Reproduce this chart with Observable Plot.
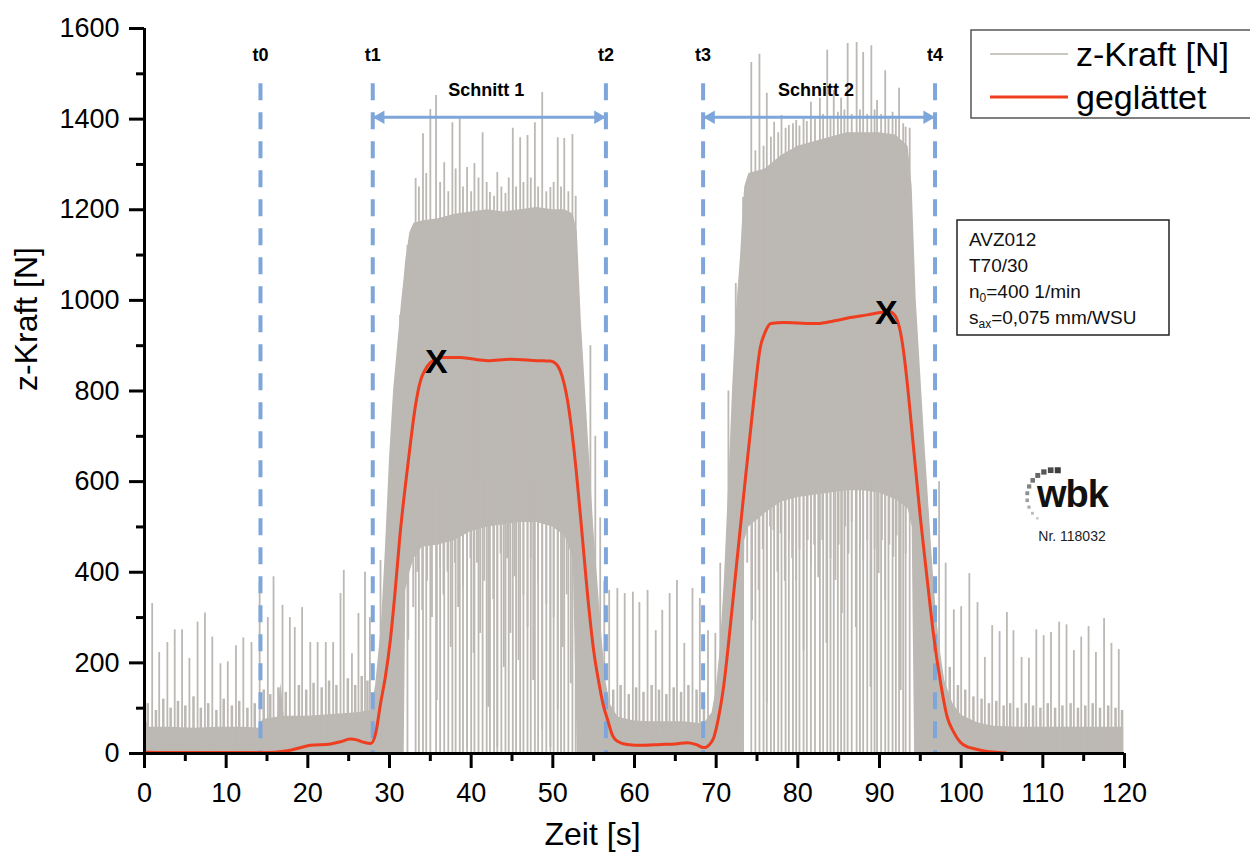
<!DOCTYPE html>
<html>
<head>
<meta charset="utf-8">
<script src="https://cdn.jsdelivr.net/npm/d3@7"></script>
<script src="https://cdn.jsdelivr.net/npm/@observablehq/plot@0.6"></script>
<style>
  body { margin: 0; background: #fff; }
  #wrap { position: relative; width: 1250px; height: 862px; overflow: hidden; background: #fff;
          font-family: "Liberation Sans", Arial, sans-serif; }
  #overlay { position: absolute; left: 0; top: 0; pointer-events: none; }
</style>
</head>
<body>
<div id="wrap"><div id="chart"></div></div>
<script>
// ---------- data ----------
// axis ticks
const xTicks = [0, 10, 20, 30, 40, 50, 60, 70, 80, 90, 100, 110, 120];
const xMinor = [5, 15, 25, 35, 45, 55, 65, 75, 85, 95, 105, 115];
const yTicks = [0, 200, 400, 600, 800, 1000, 1200, 1400, 1600];
const yMinor = [100, 300, 500, 700, 900, 1100, 1300, 1500];

// dense part of the raw z-force signal (envelope): time [s], upper and lower edge [N]
const bandT  = [0, 0.3, 0.6, 3, 6, 9, 12, 14, 14.5, 16.3, 16.7, 17.1, 20, 23, 26, 27.8, 28.3, 29, 29.5, 30, 30.5, 31, 31.5, 31.8, 32, 32.5, 33, 34, 36, 38, 40, 42, 44, 46, 48, 50, 51.5, 52.5, 53, 53.5, 54, 54.5, 55, 55.5, 56, 56.5, 57, 58, 60, 62, 64, 66, 68.5, 69.5, 70, 70.5, 71, 71.5, 72, 72.5, 73, 73.3, 73.5, 74, 76, 78, 80, 82, 84, 86, 88, 90, 92, 93.5, 94, 94.3, 94.5, 95, 95.5, 96, 96.5, 97, 97.5, 98, 99, 100, 102, 104, 107, 110, 115, 119.9];
const bandHi = [80, 70, 58, 58, 56, 58, 58, 56, 75, 80, 155, 82, 82, 86, 90, 95, 150, 280, 450, 650, 800, 900, 1000, 1050, 1090, 1150, 1170, 1175, 1180, 1190, 1195, 1200, 1195, 1200, 1205, 1200, 1200, 1190, 1150, 950, 800, 650, 500, 380, 260, 160, 110, 80, 72, 70, 70, 70, 65, 90, 140, 230, 380, 580, 800, 980, 1100, 1200, 1250, 1280, 1290, 1320, 1340, 1350, 1360, 1370, 1370, 1370, 1365, 1340, 1250, 1100, 1000, 850, 700, 560, 420, 300, 220, 160, 110, 85, 68, 60, 58, 58, 58, 58];
const bandLo = [0, 0, 0, 0, 0, 0, 0, 0, 0, 0, 0, 0, 0, 0, 0, 0, 0, 0, 0, 0, 0, 0, 0, 0, 360, 400, 430, 455, 460, 470, 490, 500, 505, 510, 510, 500, 480, 430, 0, 0, 0, 0, 0, 0, 0, 0, 0, 0, 0, 0, 0, 0, 0, 0, 0, 0, 0, 0, 0, 0, 0, 0, 470, 500, 530, 555, 565, 570, 575, 580, 580, 575, 560, 540, 500, 0, 0, 0, 0, 0, 0, 0, 0, 0, 0, 0, 0, 0, 0, 0, 0, 0];

// single upward peaks of the raw signal: time [s], peak value [N]
const spikeT = [0.94, 1.8, 2.8, 3.7, 4.6, 5.5, 6.5, 7.4, 8.3, 9.3, 10.2, 11.2, 12.1, 13.1, 14.1, 15.1, 15.8, 16.9, 17.8, 18.4, 19.3, 20.3, 21.2, 22.2, 23.1, 24, 24.4, 25.4, 26.2, 27, 27.6,
  28.9, 31.3, 32.2, 33.2, 33.6, 34.1, 34.5, 35, 35.7, 36.2, 36.7, 37.2, 37.7, 38.1, 38.6, 39, 39.5, 40, 40.4, 40.9, 41.4, 41.9, 42.3, 42.8, 43.2, 43.7, 44.2, 44.6, 45.1, 45.5, 46, 46.4, 46.9, 47.3, 47.8, 48.2, 48.7, 49.2, 49.7, 50.1, 50.6, 51, 51.4, 51.9, 52.4, 52.8,
  54.6, 55.2, 55.8, 56.3, 56.9, 57.9, 58.8, 59.8, 60.6, 61.6, 62.6, 63.4, 64.3, 65.2, 66.1, 67.1, 68, 69, 69.9, 70.5, 71.5, 72.4, 73.3,
  74.3, 74.8, 75.3, 75.8, 76.2, 76.7, 77.1, 77.6, 78, 78.5, 78.9, 79.4, 79.8, 80.2, 80.7, 81.1, 81.6, 82.1, 82.7, 83.1, 83.6, 84, 84.4, 84.9, 85.3, 85.7, 86.1, 86.6, 87.2, 87.6, 88, 88.5, 89, 89.4, 89.7, 90.2, 90.7, 91.1, 91.6, 92, 92.4, 92.9, 93.2, 93.7,
  97.3, 98.1, 99.1, 100, 101, 102, 102.9, 103.8, 104.7, 105.6, 106.4, 107.4, 108.3, 109.2, 110.1, 111, 112, 112.9, 113.8, 114.7, 115.6, 116.5, 117.5, 118.4, 119.3];
const spikeV = [331, 223, 245, 273, 273, 210, 290, 310, 257, 198, 202, 238, 255, 245, 377, 300, 390, 327, 300, 278, 322, 245, 245, 245, 245, 353, 404, 220, 309, 400, 300,
  426, 967, 1121, 1269, 1250, 1368, 1280, 1421, 1452, 1260, 1304, 1240, 1392, 1290, 1401, 1250, 1293, 1240, 1302, 1270, 1370, 1260, 1238, 1230, 1282, 1250, 1236, 1270, 1380, 1250, 1359, 1260, 1364, 1270, 1392, 1250, 1459, 1240, 1249, 1260, 1359, 1250, 1357, 1240, 1366, 1230,
  900, 700, 520, 380, 360, 364, 353, 356, 333, 360, 271, 316, 353, 382, 243, 364, 342, 271, 265, 420, 800, 1037, 1227,
  1525, 1330, 1543, 1340, 1457, 1360, 1393, 1370, 1408, 1380, 1386, 1390, 1397, 1385, 1401, 1395, 1437, 1400, 1446, 1410, 1552, 1400, 1463, 1415, 1446, 1420, 1567, 1410, 1569, 1420, 1547, 1410, 1562, 1420, 1441, 1410, 1507, 1400, 1415, 1400, 1468, 1390, 1382, 1380,
  600, 420, 317, 324, 397, 333, 212, 282, 269, 311, 271, 212, 210, 273, 260, 267, 290, 284, 227, 257, 280, 223, 298, 243, 229];

// short peaks on top of the dense parts: time [s], peak value [N]
const fuzzT = [0.4, 1.4, 2.3, 3.2, 4.1, 5.0, 6.0, 6.9, 7.8, 8.8, 9.7, 10.7, 11.6, 12.6, 13.5, 14.6, 15.4, 16.4, 17.3, 18.9, 19.8, 20.7, 21.7, 22.6, 23.5, 24.9, 25.8, 26.6, 27.3,
  57.4, 58.3, 59.3, 60.2, 61.1, 62.1, 63, 63.9, 64.8, 65.7, 66.6, 67.6, 68.5,
  98.6, 99.6, 100.5, 101.5, 102.5, 103.4, 104.3, 105.2, 106, 106.9, 107.9, 108.8, 109.7, 110.6, 111.5, 112.4, 113.4, 114.3, 115.2, 116.1, 117, 118, 118.9, 119.7];
const fuzzV = [110, 95, 120, 100, 115, 105, 125, 100, 110, 95, 120, 105, 115, 100, 110, 140, 130, 145, 135, 150, 140, 155, 145, 160, 150, 165, 150, 170, 160,
  140, 150, 130, 145, 135, 150, 140, 130, 145, 135, 150, 140, 130,
  190, 150, 140, 125, 120, 110, 115, 105, 110, 100, 110, 105, 100, 110, 100, 105, 110, 100, 105, 110, 100, 105, 100, 95];

// single downward dips of the raw signal during the cuts: time [s], minimum [N]
const dipT = [31.7, 32.3, 32.9, 33.4, 34, 34.6, 35.2, 35.8, 36.2, 36.6, 37.1, 37.5, 38, 38.4, 39, 39.5, 39.9, 40.3, 40.7, 41.1, 41.6, 42.1, 42.7, 43.2, 43.6, 44, 44.4, 44.8, 45.3, 45.8, 46.4, 46.9, 47.3, 47.6, 48.2, 48.7, 49.2, 49.7, 50.1, 50.6, 51.2, 51.7, 52.2,
  73.8, 74.4, 75.2, 75.7, 76.2, 76.6, 77, 77.5, 77.9, 78.4, 78.9, 79.3, 79.8, 80.2, 80.7, 81.2, 81.6, 82, 82.5, 83, 83.5, 84, 84.6, 85, 85.4, 85.8, 86.2, 86.6, 87.1, 87.6, 88, 88.5, 88.9, 89.4, 89.9, 90.3, 90.7, 91.2, 91.7, 92.1, 92.6, 93.2];
const dipV = [338, 250, 322, 400, 316, 380, 300, 117, 410, 350, 400, 234, 420, 322, 370, 13, 430, 221, 420, 265, 380, 102, 340, 13, 440, 190, 430, 265, 390, 205, 350, 278, 430, 161, 380, 51, 330, 13, 300, 95, 234, 350, 154,
  420, 293, 360, 450, 110, 500, 492, 400, 485, 380, 470, 430, 382, 450, 227, 470, 419, 460, 388, 470, 243, 430, 382, 460, 309, 500, 440, 510, 278, 450, 426, 470, 146, 450, 397, 470, 338, 460, 433, 480, 139, 440];

// smoothed curve ("geglättet"): time [s], force [N]
const smoothT = [0, 5, 10, 14, 16, 17.5, 18.7, 20.3, 22.8, 24, 25.2, 26, 26.8, 27.7, 28.3, 28.9, 29.5, 30.1, 30.7, 31.3, 32, 32.6, 33.2, 33.8, 34.4, 35, 35.8, 36.6, 38.7, 40, 42, 44.8, 48.1, 49.7, 50.4, 50.9, 51.4, 51.8, 52.6, 53.4, 54.2, 55, 55.6, 56.2, 56.7, 57.3, 57.9, 59.1, 61, 63.2, 65, 66.5, 67.5, 68.5, 69.2, 69.7, 70.3, 70.9, 71.8, 72.4, 73.3, 74.6, 75.4, 76, 76.7, 78.3, 80, 82.4, 84.5, 86.4, 88.5, 90.1, 91.2, 91.7, 92.2, 92.6, 93, 93.4, 94.2, 95, 95.9, 96.6, 97.5, 98.3, 99, 99.9, 100.7, 101.5, 103, 104.8, 105.5];
const smoothV = [3, 2, 2, 2, 3, 6, 11, 18, 21, 26, 32, 30, 25, 22, 44, 110, 170, 250, 360, 485, 600, 690, 770, 823, 848, 863, 870, 874, 874, 871, 867, 870, 867, 866, 860, 845, 815, 779, 669, 521, 360, 227, 160, 105, 75, 40, 27, 20, 18, 20, 21, 24, 20, 13, 20, 35, 80, 146, 293, 400, 558, 779, 896, 930, 949, 951, 950, 949, 955, 962, 968, 973, 975, 971, 955, 927, 880, 817, 669, 521, 375, 264, 154, 80, 50, 25, 15, 11, 5, 2, 1];

// time marks and cut intervals
const eventNames = ["t0", "t1", "t2", "t3", "t4"];
const eventT = [14.2, 27.95, 56.5, 68.4, 96.8];
const cutNames = ["Schnitt 1", "Schnitt 2"];
const cutStart = [27.95, 68.4];
const cutEnd = [56.5, 96.8];
const cutArrowY = 1404;
const cutLabelY = 1463;
const eventLabelY = 1540;
const eventLineTop = 1478;

// marked maxima of the smoothed curve
const markT = [35.75, 90.85];
const markV = [863, 971];

// legend + info box texts
const legendNames = ["z-Kraft [N]", "geglättet"];
const infoLines = [["AVZ012"], ["T70/30"], ["n", "0", "=400 1/min"], ["s", "ax", "=0,075 mm/WSU"]];
const logoText = "wbk";
const logoNr = "Nr. 118032";

// ---------- colours ----------
const grey = "#bcb8b3";
const red = "#ee3d1f";
const blue = "#7ea6da";
const font = "'Liberation Sans', Arial, sans-serif";

// ---------- tables ----------
const band = bandT.map((t, i) => ({t, hi: bandHi[i], lo: bandLo[i]}));
const spikes = spikeT.map((t, i) => ({t, v: spikeV[i]}));
const fuzz = fuzzT.map((t, i) => ({t, v: fuzzV[i]}));
const dips = dipT.map((t, i) => ({t, v: dipV[i]}));
const smooth = smoothT.map((t, i) => ({t, v: smoothV[i]}));
const events = eventNames.map((name, i) => ({name, t: eventT[i]}));
const cuts = cutNames.map((name, i) => ({name, start: cutStart[i], end: cutEnd[i], mid: (cutStart[i] + cutEnd[i]) / 2}));
const marks = markT.map((t, i) => ({t, v: markV[i]}));

const chart = Plot.plot({
  width: 1250,
  height: 862,
  marginLeft: 144,
  marginRight: 126,
  marginTop: 28,
  marginBottom: 109,
  x: {domain: [0, 120]},
  y: {domain: [0, 1600]},
  style: {fontFamily: font, background: "transparent", color: "black", overflow: "visible"},
  marks: [
    Plot.areaY(band, {x: "t", y1: "lo", y2: "hi", fill: grey}),
    Plot.ruleX(spikes, {x: "t", y1: 0, y2: "v", stroke: grey, strokeWidth: 1.8}),
    Plot.ruleX(fuzz, {x: "t", y1: 0, y2: "v", stroke: grey, strokeWidth: 2.5}),
    Plot.ruleX(dips, {x: "t", y1: "v", y2: 600, stroke: grey, strokeWidth: 1.8}),
    Plot.ruleX(events, {x: "t", y1: eventLineTop, y2: 0, stroke: blue, strokeWidth: 4, strokeDasharray: "17,12"}),
    Plot.ruleY(cuts, {y: cutArrowY, x1: "start", x2: "end", stroke: blue, strokeWidth: 3}),
    Plot.dot(cuts, {x: "start", y: cutArrowY, symbol: "triangle", rotate: -90, r: 5, fill: blue, stroke: null, dx: 7.8}),
    Plot.dot(cuts, {x: "end", y: cutArrowY, symbol: "triangle", rotate: 90, r: 5, fill: blue, stroke: null, dx: -7.8}),
    Plot.line(smooth, {x: "t", y: "v", stroke: red, strokeWidth: 3, curve: "monotone-x"}),
    Plot.text(marks, {x: "t", y: "v", text: () => "X", fontSize: 34, fontWeight: "bold", fill: "black"}),
    Plot.text(events, {x: "t", y: eventLabelY, text: "name", fontSize: 18, fontWeight: "bold", fill: "black"}),
    Plot.text(cuts, {x: "mid", y: cutLabelY, text: "name", fontSize: 18, fontWeight: "bold", fill: "black", dx: -3}),
    Plot.ruleX([0], {stroke: "black", strokeWidth: 3}),
    Plot.ruleY([0], {stroke: "black", strokeWidth: 3}),
    Plot.axisX({ticks: xTicks, tickSize: 15, tickPadding: 14, fontSize: 27, strokeWidth: 3, tickFormat: d => String(d), label: null}),
    Plot.axisX({ticks: xMinor, tickSize: 8, strokeWidth: 3, tickFormat: () => "", label: null}),
    Plot.axisY({ticks: yTicks, tickSize: 15, tickPadding: 10, fontSize: 27, strokeWidth: 3, tickFormat: d => String(d), label: null}),
    Plot.axisY({ticks: yMinor, tickSize: 8, strokeWidth: 3, tickFormat: () => "", label: null}),
    Plot.text(["Zeit [s]"], {frameAnchor: "bottom", dy: 91, dx: -42, fontSize: 32, fill: "black"}),
    Plot.text(["z-Kraft [N]"], {frameAnchor: "left", dx: -118, rotate: -90, fontSize: 32, fill: "black"})
  ]
});
document.getElementById("chart").appendChild(chart);

// ---------- legend, info box and logo (overlay) ----------
const ov = d3.select("#wrap").append("svg")
  .attr("id", "overlay").attr("width", 1250).attr("height", 862)
  .style("font-family", font);

ov.append("rect").attr("x", 971).attr("y", 30).attr("width", 300).attr("height", 88)
  .attr("fill", "white").attr("stroke", "#555").attr("stroke-width", 1.5);
const legendColors = ["#cbc7c3", red];
const legendWidths = [2, 3];
legendNames.forEach((name, i) => {
  const y = 54 + i * 43;
  ov.append("line").attr("x1", 990).attr("x2", 1068).attr("y1", y).attr("y2", y)
    .attr("stroke", legendColors[i]).attr("stroke-width", legendWidths[i]);
  ov.append("text").attr("x", 1076).attr("y", y + 12).attr("font-size", 34).attr("fill", "black").text(name);
});

ov.append("rect").attr("x", 957).attr("y", 220).attr("width", 212).attr("height", 115)
  .attr("fill", "white").attr("stroke", "#222").attr("stroke-width", 1.5);
infoLines.forEach((parts, i) => {
  const t = ov.append("text").attr("x", 969).attr("y", 246 + i * 26).attr("font-size", 19).attr("fill", "#111");
  if (parts.length === 1) { t.text(parts[0]); return; }
  t.append("tspan").text(parts[0]);
  t.append("tspan").attr("font-size", 12).attr("dy", 4).text(parts[1]);
  t.append("tspan").attr("dy", -4).text(parts[2]);
});

// wbk logo: arc of dots and lettering
const cx = 1054, cy = 497, rr = 27;
d3.range(11).forEach(k => {
  const a = (128 + k * 15) * Math.PI / 180;
  const s = 2.5 + k * 0.35;
  const g = Math.round(200 - k * 14);
  ov.append("rect").attr("x", cx + rr * Math.cos(a) - s / 2).attr("y", cy + rr * Math.sin(a) - s / 2)
    .attr("width", s).attr("height", s).attr("fill", `rgb(${g},${g},${g})`);
});
ov.append("text").attr("x", 1037).attr("y", 507).attr("font-size", 38).attr("font-weight", "bold")
  .attr("letter-spacing", -1).attr("fill", "#111").text(logoText);
ov.append("text").attr("x", 1072).attr("y", 541).attr("font-size", 14).attr("text-anchor", "middle")
  .attr("fill", "#222").text(logoNr);
</script>
</body>
</html>
